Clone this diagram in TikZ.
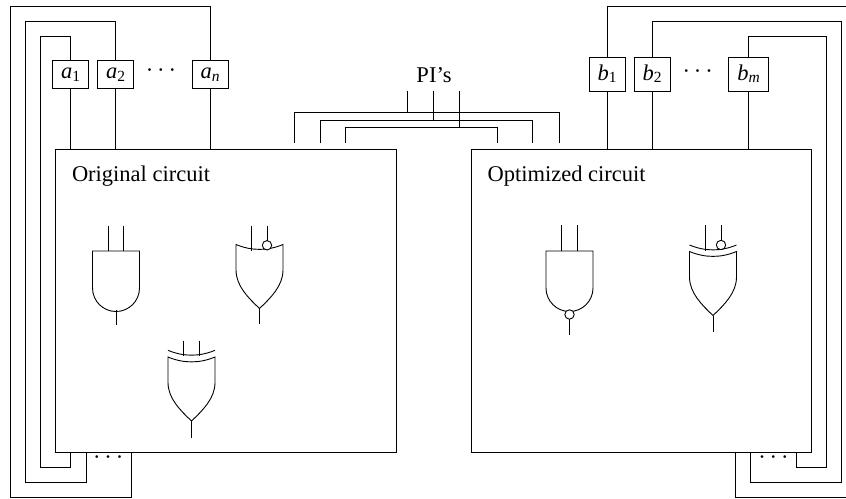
\documentclass[tikz,border=0pt]{standalone}
\usepackage{fontspec}
\setmainfont{Liberation Serif}
\newcommand{\subx}[1]{\raisebox{-2.6pt}{\fontsize{15.5pt}{17pt}\selectfont\upshape #1}}
\newcommand{\subi}[1]{\raisebox{-2.6pt}{\fontsize{15.5pt}{17pt}\selectfont\itshape #1}}
\newcommand{\tdots}{\textperiodcentered\kern3.9pt\textperiodcentered\kern3.9pt\textperiodcentered}
\tikzset{
  wire/.style={line width=0.9pt,draw=black,line join=miter},
  circuit/.style={wire,draw,minimum width=#1,minimum height=302.5pt,inner sep=0pt,outer sep=0pt},
  abox/.style={wire,draw,minimum width=36pt,minimum height=28pt,inner sep=0pt,outer sep=0pt},
  bbox/.style={wire,draw,minimum width=#1,minimum height=34pt,inner sep=0pt,outer sep=0pt},
  lbl/.style={inner sep=0pt,outer sep=0pt,anchor=base},
  bubble/.style={wire,draw,fill=white,circle,minimum size=9.4pt,inner sep=0pt,outer sep=0pt},
  andbody/.pic={
    \draw[wire] (-23.5,0) -- (23.5,0) -- (23.5,37) arc[start angle=0,end angle=180,radius=23.5] -- cycle;
  },
  orbody/.pic={
    \draw[wire] (-23.5,-6.5) .. controls (-8,0) and (8,0) .. (23.5,-6.5) -- (23.5,19)
      .. controls (23.5,35) and (11,47) .. (0,57.5)
      .. controls (-11,47) and (-23.5,35) .. (-23.5,19) -- cycle;
  },
  xorarc/.pic={
    \draw[wire] (-23.5,-6.5) .. controls (-8,0) and (8,0) .. (23.5,-6.5);
  }
}
\begin{document}
\begin{tikzpicture}[x=1pt,y=-1pt,font=\fontsize{22.5pt}{25pt}\selectfont]
\useasboundingbox (0,0) rectangle (846,498);
\fill[white] (0,0) rectangle (846,498);

% main boxes
\node[circuit=340.5pt] (orig) at (225.75,300.75) {};
\node[circuit=340.5pt] (opt) at (641.25,300.75) {};
\node[lbl,anchor=base west] (origt) at (72,181) {Original circuit};
\node[lbl,anchor=base west] (optt) at (487.5,181) {Optimized circuit};

% latches left
\node[abox] (a1) at (70.5,74) {};
\node[abox] (a2) at (115.5,74) {};
\node[abox] (an) at (210,74) {};
\node[lbl] (a1t) at (70.5,78.5) {\itshape a\subx{1}};
\node[lbl] (a2t) at (115.5,78.5) {\itshape a\subx{2}};
\node[lbl] (ant) at (210,78.5) {\itshape a\subi{n}};
\node[lbl] (adots) at (161,77.5) {\tdots};

% latches right
\node[bbox=36pt] (b1) at (607,74) {};
\node[bbox=36pt] (b2) at (652,74) {};
\node[bbox=40pt] (bm) at (748.5,74) {};
\node[lbl] (b1t) at (607,80) {\itshape b\subx{1}};
\node[lbl] (b2t) at (652,80) {\itshape b\subx{2}};
\node[lbl] (bmt) at (748.5,80) {\itshape b\subi{m}};
\node[lbl] (bdots) at (697.7,78) {\tdots};

% latch to circuit
\foreach \l/\b in {a1/orig,a2/orig,an/orig,b1/opt,b2/opt,bm/opt}
  \draw[wire] (\l.south) -- (\l.south |- \b.north);

% feedback left
\coordinate (la1) at (40.5,36.5);
\coordinate (la2) at (25,21);
\coordinate (lan) at (10,6);
\coordinate (ba1) at (40.5,467);
\coordinate (ba2) at (25,482);
\coordinate (ban) at (10,497);
\coordinate (ea1) at (70.5,452);
\coordinate (ea2) at (86,452);
\coordinate (ean) at (131,452);
\draw[wire] (a1.north) |- (la1) -- (ba1) -| (ea1);
\draw[wire] (a2.north) |- (la2) -- (ba2) -| (ea2);
\draw[wire] (an.north) |- (lan) -- (ban) -| (ean);
\node[lbl] (ldots) at (108.2,464.8) {\tdots};

% feedback right
\coordinate (rb1) at (846,6);
\coordinate (rb2) at (841.7,21);
\coordinate (rbm) at (826.7,36.5);
\coordinate (bb1) at (846,497);
\coordinate (bb2) at (841.7,482);
\coordinate (bbm) at (826.7,467);
\coordinate (eb1) at (735.7,452);
\coordinate (eb2) at (750.7,452);
\coordinate (ebm) at (796.3,452);
\draw[wire] (b1.north) |- (rb1);
\draw[wire] (bb1) -| (eb1);
\draw[wire] (b2.north) |- (rb2) -- (bb2) -| (eb2);
\draw[wire] (bm.north) |- (rbm) -- (bbm) -| (ebm);
\node[lbl] (rdots) at (773.4,464.8) {\tdots};

% PI's
\node[lbl] (pi) at (434,82.5) {PI’s};
\coordinate (p1) at (407.7,90.5);
\coordinate (p2) at (433.3,90.5);
\coordinate (p3) at (459,90.5);
\coordinate (h1) at (407.7,112.7);
\coordinate (h2) at (433.3,120.3);
\coordinate (h3) at (459,127.7);
\draw[wire] (p1) -- (h1);
\draw[wire] (p2) -- (h2);
\draw[wire] (p3) -- (h3);
\draw[wire] (294.5,142.5) |- (h1) -| (559,142.5);
\draw[wire] (320,142.5) |- (h2) -| (532,142.5);
\draw[wire] (345.7,142.5) |- (h3) -| (497,142.5);

% AND gate
\pic at (116,251) {andbody};
\draw[wire] (108.3,225.5) -- (108.3,251);
\draw[wire] (123.7,225.5) -- (123.7,251);
\draw[wire] (116,309.5) -- (116,325);

% OR gate with inverted input
\pic at (259.5,251) {orbody};
\draw[wire] (251.7,225.5) -- (251.7,250.5);
\node[bubble] (orb) at (267,245.3) {};
\coordinate (orin) at (267,225.5);
\draw[wire] (orin) -- (orb.north);
\draw[wire] (259.5,308.5) -- (259.5,324);

% XOR gate
\pic at (191.5,363.5) {orbody};
\pic at (191.5,356.8) {xorarc};
\draw[wire] (183.8,340.5) -- (183.8,356);
\draw[wire] (199.2,340.5) -- (199.2,356);
\draw[wire] (191.5,421) -- (191.5,437.5);

% NAND gate
\pic at (569.5,251) {andbody};
\draw[wire] (561.8,225) -- (561.8,251);
\draw[wire] (577.2,225) -- (577.2,251);
\node[bubble] (nb) at (569.5,314.5) {};
\coordinate (nout) at (569.5,334.5);
\draw[wire] (nb.south) -- (nout);

% XNOR gate
\pic at (713,258) {orbody};
\pic at (713,251.5) {xorarc};
\draw[wire] (705.3,225) -- (705.3,250.5);
\node[bubble] (xb) at (721,245) {};
\coordinate (xin) at (721,225);
\draw[wire] (xin) -- (xb.north);
\draw[wire] (713,315.5) -- (713,331.5);
\end{tikzpicture}
\end{document}
